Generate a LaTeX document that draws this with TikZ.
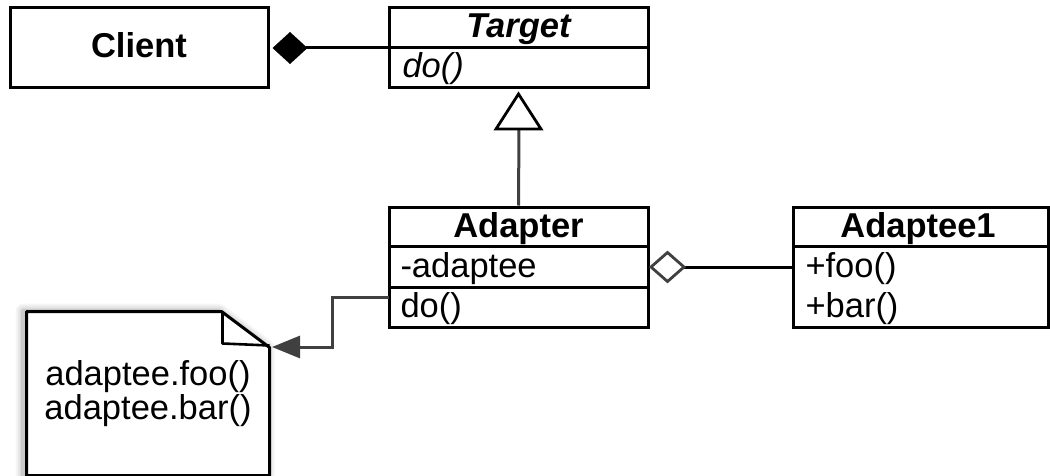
\documentclass[tikz,border=0pt]{standalone}
\usepackage{fontspec}
\setmainfont{Liberation Sans}
\usetikzlibrary{arrows.meta}
\begin{document}
\begin{tikzpicture}[x=1pt,y=-1pt,line width=3pt,
  box/.style={draw,rectangle,inner sep=0pt,line width=3pt},
  txt/.style={inner sep=0pt,anchor=base,font=\fontsize{34.5}{40}\selectfont},
  ltxt/.style={inner sep=0pt,anchor=base west,font=\fontsize{34.5}{40}\selectfont},
  divline/.style={line width=3pt},
  conn/.style={line width=3pt,draw=black!75}]
\useasboundingbox (0,0) rectangle (1050,476);
% Client
\node[box,minimum width=258pt,minimum height=80pt] (client) at (139,48) {};
\node[txt,font=\fontsize{34.5}{40}\selectfont\bfseries] (clientlbl) at (139,58) {Client};
% Target
\node[box,minimum width=259pt,minimum height=80pt] (target) at (518.5,48) {};
\draw[divline] (target.west) -- (target.east);
\node[txt,font=\fontsize{34.5}{40}\selectfont\bfseries\itshape] (targetlbl) at (518.5,38) {Target};
\node[ltxt,font=\fontsize{34.5}{40}\selectfont\itshape] (targetdo) at (401,78) {do()};
% Adapter
\node[box,minimum width=259pt,minimum height=120pt] (adapter) at (518.5,267) {};
\coordinate (ad1w) at (389,246); \coordinate (ad1e) at (648,246);
\coordinate (ad2w) at (389,287); \coordinate (ad2e) at (648,287);
\draw[divline] (ad1w) -- (ad1e);
\draw[divline] (ad2w) -- (ad2e);
\node[txt,font=\fontsize{34.5}{40}\selectfont\bfseries] (adapterlbl) at (518.5,237) {Adapter};
\node[ltxt] (adapteeattr) at (399,277) {-adaptee};
\node[ltxt] (adapterdo) at (399,317) {do()};
% Adaptee1
\node[box,minimum width=255pt,minimum height=120pt] (adaptee) at (920.5,267) {};
\coordinate (ae1w) at (793,246); \coordinate (ae1e) at (1048,246);
\draw[divline] (ae1w) -- (ae1e);
\node[txt,font=\fontsize{34.5}{40}\selectfont\bfseries] (adapteelbl) at (918,237) {Adaptee1};
\node[ltxt] (foo) at (804,277) {+foo()};
\node[ltxt] (bar) at (804,317) {+bar()};
% Note
\node[inner sep=0pt,minimum width=240pt,minimum height=161pt] (note) at (148,393.5) {};
\foreach \w/\o in {16/0.04,12/0.05,8/0.06,5/0.08}{
  \draw[black,opacity=\o,line width=\w pt,line join=round] ([xshift=-3pt]note.north west) -- ([xshift=-51pt]note.north east) -- ([xshift=-3pt,yshift=-36pt]note.north east) -- ([xshift=-3pt]note.south east) -- ([xshift=-3pt]note.south west) -- cycle;
}
\fill[white] (note.north west) -- ([xshift=-48pt]note.north east) -- ([yshift=-36pt]note.north east) -- (note.south east) -- (note.south west) -- cycle;
\draw[line width=3pt,line join=round] (note.north west) -- ([xshift=-48pt]note.north east) -- ([yshift=-36pt]note.north east) -- (note.south east) -- (note.south west) -- cycle;
\draw[line width=2.6pt,line join=round] ([xshift=-47pt]note.north east) -- ([xshift=-47pt,yshift=-32pt]note.north east) -- ([yshift=-34pt]note.north east);
\node[txt] (foocall) at (148,385) {adaptee.foo()};
\node[txt] (barcall) at (148,419) {adaptee.bar()};
% composition
\draw[line width=3pt] ([xshift=36pt]client.east) -- (target.west);
\fill[black] ([xshift=3pt]client.east) -- ++(17.5,-16) -- ++(17.5,16) -- ++(-17.5,16) -- cycle;
% inheritance
\coordinate (tribase) at (519,129);
\draw[conn] (adapter.north) -- (tribase);
\draw[line width=2.8pt,fill=white,line join=miter] (target.south |- 0,94) -- ++(22.5,35) -- ++(-45,0) -- cycle;
% aggregation
\coordinate (aggtip) at (651,267);
\draw[line width=3pt] (684,267) -- (adaptee.west);
\draw[line width=2.8pt,draw=black!75,fill=white] (aggtip) -- ++(16.5,-14.5) -- ++(16.5,14.5) -- ++(-16.5,14.5) -- cycle;
% note link
\coordinate (notetip) at (272,347);
\draw[conn,-{Triangle[length=28pt,width=22pt]}] (389,297) -- (332,297) -- (332,347) -- (notetip);
\end{tikzpicture}
\end{document}
